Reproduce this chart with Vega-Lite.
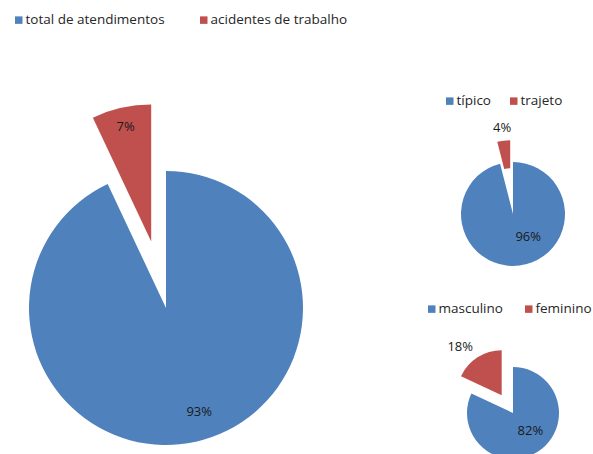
{
  "$schema": "https://vega.github.io/schema/vega-lite/v6.json",
  "padding": {"left": 0, "top": 13, "right": 0, "bottom": 0},
  "background": "white",
  "bounds": "flush",
  "spacing": 129,
  "config": {
    "view": {"stroke": null},
    "font": "Open Sans",
    "legend": {
      "symbolType": "square",
      "symbolSize": 56,
      "symbolStrokeWidth": 0,
      "labelFont": "Open Sans",
      "labelFontSize": 13.5,
      "labelColor": "#262626",
      "labelOffset": 0,
      "padding": 0,
      "direction": "horizontal",
      "orient": "none",
      "title": null
    }
  },
  "resolve": {"scale": {"color": "independent", "theta": "independent"}, "legend": {"color": "independent"}},
  "hconcat": [
    {
      "width": 332,
      "height": 292,
      "data": {"values": [
        {"cat": "total de atendimentos", "value": 0.93},
        {"cat": "acidentes de trabalho", "value": 0.07}
      ]},
      "encoding": {
        "theta": {"field": "value", "type": "quantitative", "stack": true},
        "order": {"field": "value", "sort": "descending"},
        "color": {
          "field": "cat", "type": "nominal",
          "scale": {"domain": ["total de atendimentos", "acidentes de trabalho"], "range": ["#4F81BD", "#C0504D"]},
          "legend": {"orient": "none", "legendX": 12, "legendY": -149, "direction": "horizontal", "title": null, "columnPadding": 32}
        }
      },
      "layer": [
        {"mark": {"type": "arc", "radius": 137},
         "encoding": {"opacity": {"condition": {"test": "datum.cat === 'acidentes de trabalho'", "value": 0}, "value": 1}}},
        {"mark": {"type": "arc", "radius": 137, "xOffset": -14.8, "yOffset": -66.4},
         "encoding": {"opacity": {"condition": {"test": "datum.cat === 'total de atendimentos'", "value": 0}, "value": 1}}},
        {"mark": {"type": "text", "radius": 109, "fontSize": 13, "thetaOffset": -0.09},
         "encoding": {"text": {"field": "value", "format": ".0%"}, "color": {"value": "#1a1a1a"},
           "opacity": {"condition": {"test": "datum.cat === 'acidentes de trabalho'", "value": 0}, "value": 1}}},
        {"mark": {"type": "text", "radius": 117, "fontSize": 13, "xOffset": -14.8, "yOffset": -66.4},
         "encoding": {"text": {"field": "value", "format": ".0%"}, "color": {"value": "#1a1a1a"},
           "opacity": {"condition": {"test": "datum.cat === 'total de atendimentos'", "value": 0}, "value": 1}}}
      ]
    },
    {
      "bounds": "flush",
      "spacing": 107,
      "resolve": {"scale": {"color": "independent", "theta": "independent"}, "legend": {"color": "independent"}},
      "vconcat": [
        {
          "width": 104,
          "height": 104,
          "data": {"values": [
            {"cat": "típico", "value": 0.96},
            {"cat": "trajeto", "value": 0.04}
          ]},
          "encoding": {
            "theta": {"field": "value", "type": "quantitative", "stack": true},
            "order": {"field": "value", "sort": "descending"},
            "color": {
              "field": "cat", "type": "nominal",
              "scale": {"domain": ["típico", "trajeto"], "range": ["#4F81BD", "#C0504D"]},
              "legend": {"orient": "none", "legendX": -18, "legendY": -68, "direction": "horizontal", "title": null, "columnPadding": 16}
            }
          },
          "layer": [
            {"mark": {"type": "arc", "radius": 52},
             "encoding": {"opacity": {"condition": {"test": "datum.cat === 'trajeto'", "value": 0}, "value": 1}}},
            {"mark": {"type": "arc", "radius": 52, "radius2": 24, "xOffset": -2.8, "yOffset": -21.8},
             "encoding": {"opacity": {"condition": {"test": "datum.cat === 'típico'", "value": 0}, "value": 1}}},
            {"mark": {"type": "text", "radius": 28, "fontSize": 13, "thetaOffset": -0.45},
             "encoding": {"text": {"field": "value", "format": ".0%"}, "color": {"value": "#1a1a1a"},
               "opacity": {"condition": {"test": "datum.cat === 'trajeto'", "value": 0}, "value": 1}}},
            {"mark": {"type": "text", "radius": 65, "fontSize": 13, "xOffset": -2.8, "yOffset": -21.8},
             "encoding": {"text": {"field": "value", "format": ".0%"}, "color": {"value": "#1a1a1a"},
               "opacity": {"condition": {"test": "datum.cat === 'típico'", "value": 0}, "value": 1}}}
          ]
        },
        {
          "width": 104,
          "height": 80,
          "data": {"values": [
            {"cat": "masculino", "value": 0.82},
            {"cat": "feminino", "value": 0.18}
          ]},
          "encoding": {
            "theta": {"field": "value", "type": "quantitative", "stack": true},
            "order": {"field": "value", "sort": "descending"},
            "color": {
              "field": "cat", "type": "nominal",
              "scale": {"domain": ["masculino", "feminino"], "range": ["#4F81BD", "#C0504D"]},
              "legend": {"orient": "none", "legendX": -36, "legendY": -71, "direction": "horizontal", "title": null, "columnPadding": 19}
            }
          },
          "layer": [
            {"mark": {"type": "arc", "radius": 46},
             "encoding": {"opacity": {"condition": {"test": "datum.cat === 'feminino'", "value": 0}, "value": 1}}},
            {"mark": {"type": "arc", "radius": 45, "xOffset": -11.3, "yOffset": -17.7},
             "encoding": {"opacity": {"condition": {"test": "datum.cat === 'masculino'", "value": 0}, "value": 1}}},
            {"mark": {"type": "text", "radius": 25, "fontSize": 13, "thetaOffset": -0.2},
             "encoding": {"text": {"field": "value", "format": ".0%"}, "color": {"value": "#1a1a1a"},
               "opacity": {"condition": {"test": "datum.cat === 'feminino'", "value": 0}, "value": 1}}},
            {"mark": {"type": "text", "radius": 64, "fontSize": 13, "thetaOffset": -0.14, "xOffset": -11.3, "yOffset": -17.7},
             "encoding": {"text": {"field": "value", "format": ".0%"}, "color": {"value": "#1a1a1a"},
               "opacity": {"condition": {"test": "datum.cat === 'masculino'", "value": 0}, "value": 1}}}
          ]
        }
      ]
    }
  ]
}
